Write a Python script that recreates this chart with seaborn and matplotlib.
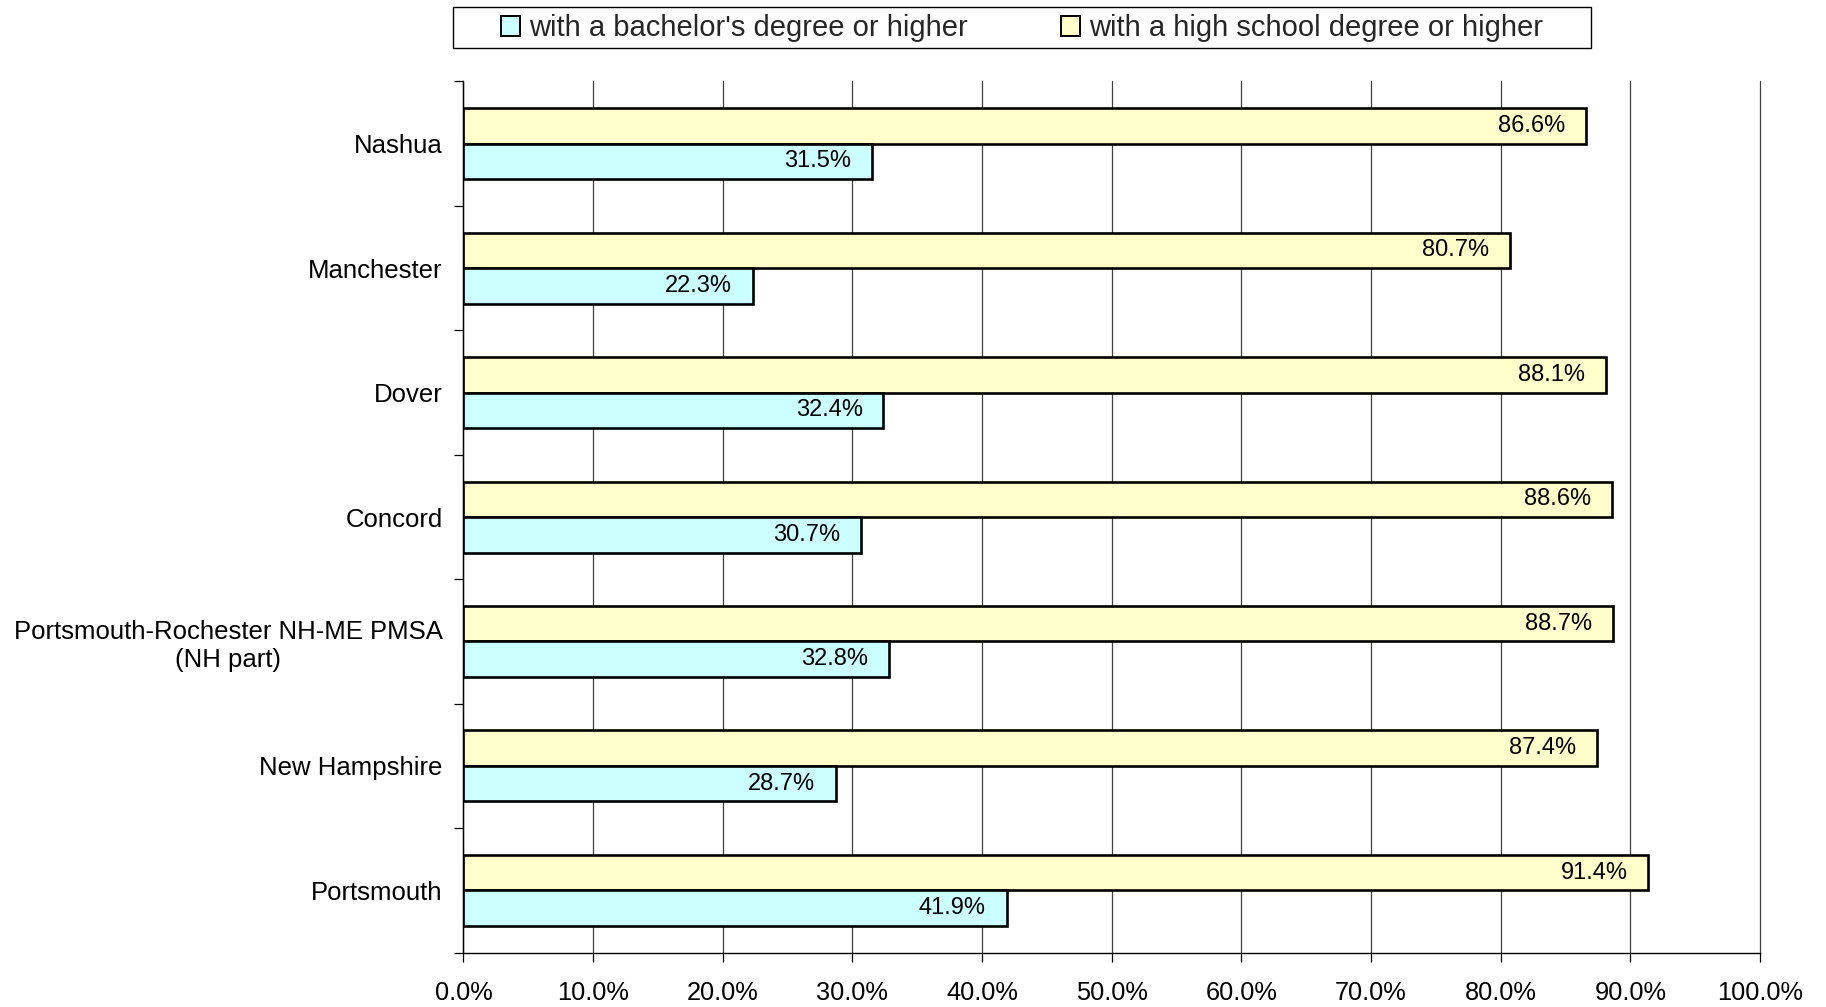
import numpy as np
import pandas as pd
import matplotlib
matplotlib.use("Agg")
import matplotlib.pyplot as plt
import seaborn as sns
from matplotlib.patches import Patch, Rectangle
from matplotlib.ticker import FixedLocator, FuncFormatter

# Educational attainment by place (percent of adults)
places = ["Nashua", "Manchester", "Dover", "Concord",
          "Portsmouth-Rochester NH-ME PMSA\n(NH part)", "New Hampshire", "Portsmouth"]
high_school = [86.6, 80.7, 88.1, 88.6, 88.7, 87.4, 91.4]
bachelors = [31.5, 22.3, 32.4, 30.7, 32.8, 28.7, 41.9]
series_names = ["with a bachelor's degree or higher", "with a high school degree or higher"]
x_ticks = list(range(0, 101, 10))

CYAN = "#CCFFFF"
YELLOW = "#FFFFCC"

sns.set_theme(style="white")
plt.rcParams["font.family"] = ["Liberation Sans", "DejaVu Sans"]

df = pd.DataFrame({
    "place": places * 2,
    "share": high_school + bachelors,
    "series": [series_names[1]] * len(places) + [series_names[0]] * len(places),
})

fig = plt.figure(figsize=(18.26, 10.07), dpi=100)
ax = fig.add_axes([0.2538, 0.0540, 0.7100, 0.8651])

sns.barplot(data=df, y="place", x="share", hue="series",
            hue_order=[series_names[1], series_names[0]], order=places,
            orient="h", palette=[YELLOW, CYAN], saturation=1, width=0.57,
            edgecolor="black", linewidth=1.9, legend=False, ax=ax)

# value labels just inside the end of each bar
for cont, vals in zip(ax.containers, [high_school, bachelors]):
    for bar, v in zip(cont, vals):
        ax.annotate(f"{v:.1f}%", xy=(v, bar.get_y() + bar.get_height() / 2),
                    xytext=(-15, 0), textcoords="offset points",
                    ha="right", va="center", fontsize=17, color="black")

ax.set_xlim(0, 100)
ax.set_ylim(6.5, -0.5)
ax.set_xlabel("")
ax.set_ylabel("")
ax.xaxis.set_major_locator(FixedLocator(x_ticks))
ax.xaxis.set_major_formatter(FuncFormatter(lambda x, _: f"{x:.1f}%"))
ax.yaxis.set_minor_locator(FixedLocator(np.arange(-0.5, 7.0, 1.0)))

ax.grid(axis="x", color="#404040", linewidth=0.9)
ax.grid(axis="y", visible=False)
ax.set_axisbelow(True)
for gl in ax.get_xgridlines():
    gl.set_clip_on(False)

for side in ("top", "right"):
    ax.spines[side].set_visible(False)
for side in ("left", "bottom"):
    ax.spines[side].set_visible(True)
    ax.spines[side].set_color("black")
    ax.spines[side].set_linewidth(1.0)

ax.tick_params(axis="x", which="major", bottom=True, direction="out",
               length=6.5, width=0.9, color="black", labelsize=18.3, pad=14,
               labelcolor="black")
ax.tick_params(axis="y", which="major", left=False, length=0,
               labelsize=18.5, pad=15, labelcolor="black")
ax.tick_params(axis="y", which="minor", left=True, direction="out",
               length=6.5, width=0.9, color="black")

for lbl in ax.get_yticklabels():
    lbl.set_multialignment("center")

handles = [Patch(facecolor=CYAN, edgecolor="black", linewidth=1.4, label=series_names[0]),
           Patch(facecolor=YELLOW, edgecolor="black", linewidth=1.4, label=series_names[1])]
fig.legend(handles=handles, loc="center", bbox_to_anchor=(0.5597, 0.9720), ncol=2,
           frameon=False, fontsize=21, handlelength=0.65, handleheight=0.65,
           handletextpad=0.3, columnspacing=3.2, borderpad=0)
fig.patches.append(Rectangle((453 / 1826, 1 - 48 / 1007), (1591 - 453) / 1826, 41 / 1007,
                             transform=fig.transFigure, fill=False,
                             edgecolor="black", linewidth=1.0))

fig.savefig("out.png", dpi=100)
